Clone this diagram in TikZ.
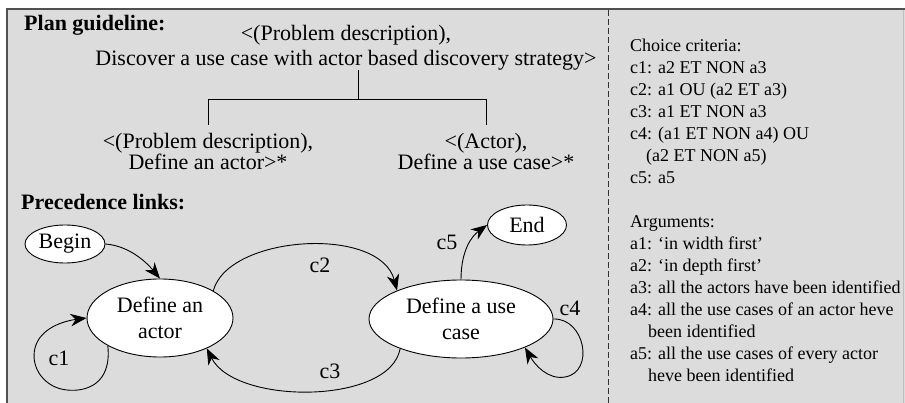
\documentclass[tikz,border=0pt]{standalone}
\usepackage{fontspec}
\setmainfont{Liberation Serif}
\usetikzlibrary{arrows.meta,shapes.geometric}
\definecolor{panel}{HTML}{DCDCDC}
\definecolor{framec}{HTML}{505050}
\begin{document}
\begin{tikzpicture}[x=1pt,y=-1pt,
  txt/.style={inner sep=0pt, font=\fontsize{22}{24}\selectfont},
  head/.style={inner sep=0pt, font=\fontsize{22}{24}\selectfont\bfseries},
  tree/.style={line width=0.9pt},
  state/.style={ellipse, draw, fill=white, line width=0.9pt, inner sep=0pt, align=center, font=\fontsize{22}{26}\selectfont},
  conn/.style={line width=0.9pt, -{Stealth[length=16pt,width=12.5pt,inset=5pt]}},
  lbl/.style={inner sep=0pt, font=\fontsize{22}{24}\selectfont}]
\useasboundingbox (0,0) rectangle (905,403);
\fill[white] (0,0) rectangle (905,403);
\fill[panel] (7,9) rectangle (905,403);
\draw[framec, line width=2pt] (7,403) -- (7,9) -- (905,9);
\draw[black!25, line width=0.6pt] (903.5,10) -- (903.5,403);
\draw[black!80, line width=0.8pt, dash pattern=on 6pt off 3pt] (608,10) -- (608,403);

% plan guideline
\node[head, anchor=base west] (pg) at (24,31) {Plan guideline:};
\node[txt, align=center, font=\fontsize{22}{25}\selectfont] (plan) at (346,47.5)
  {<(Problem description),\\Discover a use case with actor based discovery strategy>};
\node[txt, align=center, font=\fontsize{22}{21}\selectfont, inner ysep=8pt] (sub1) at (208,151.5)
  {<(Problem description),\\Define an actor>*};
\node[txt, align=center, font=\fontsize{22}{21}\selectfont, inner ysep=8pt] (sub2) at (486,151.5)
  {<(Actor),\\Define a use case>*};
\coordinate (fork) at (358,99);
\draw[tree] (plan.south -| fork) -- (fork);
\draw[tree] (fork -| sub1.north) -- (fork -| sub2.north);
\draw[tree] (fork -| sub1.north) -- (sub1.north);
\draw[tree] (fork -| sub2.north) -- (sub2.north);

% precedence links
\node[head, anchor=base west] (pl) at (21,210) {Precedence links:};
\node[state, minimum width=80pt, minimum height=38pt] (begin) at (65,244) {Begin};
\node[state, minimum width=79pt, minimum height=40pt] (end) at (527,225) {End};
\node[state, minimum width=146pt, minimum height=78pt] (actor) at (160,318) {Define an\\actor};
\node[state, minimum width=184pt, minimum height=78pt] (uc) at (461,319) {Define a use\\case};

\draw[conn] (begin.east) .. controls (130,246) and (147,263) .. (actor.north);
\draw[conn] (actor.208) .. controls (112,385) and (85,392) .. (67,390)
  .. controls (45,388) and (30,368) .. (35,348)
  .. controls (40,328) and (64,321) .. (actor.180);
\draw[conn] (actor.27) .. controls (228,235) and (380,225) .. (uc.156);
\draw[conn] (uc.206) .. controls (390,405) and (235,405) .. (actor.-33);
\draw[conn] (uc.east) .. controls (585,318) and (595,372) .. (565,377)
  .. controls (548,380) and (535,365) .. (uc.-24);
\draw[conn] (uc.north) .. controls (461,250) and (472,236) .. (end.west);

\node[lbl] (l1) at (59,358) {c1};
\node[lbl] (l2) at (320,265) {c2};
\node[lbl] (l3) at (330,371) {c3};
\node[lbl] (l4) at (570,308) {c4};
\node[lbl] (l5) at (447,242) {c5};

% criteria panel
\node[anchor=north west, inner sep=0pt, align=left, font=\fontsize{18}{22}\selectfont] (crit) at (630,38.7)
  {Choice criteria:\\
   c1: a2 ET NON a3\\
   c2: a1 OU (a2 ET a3)\\
   c3: a1 ET NON a3\\
   c4: (a1 ET NON a4) OU\\
   \hspace*{16pt}(a2 ET NON a5)\\
   c5: a5\\[22pt]
   Arguments:\\
   a1: ‘in width first’\\
   a2: ‘in depth first’\\
   a3: all the actors have been identified\\
   a4: all the use cases of an actor heve\\
   \hspace*{18pt}been identified\\
   a5: all the use cases of every actor\\
   \hspace*{18pt}heve been identified};
\end{tikzpicture}
\end{document}
